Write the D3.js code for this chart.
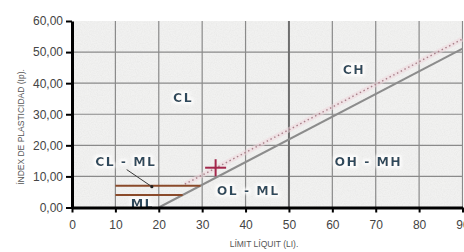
<!DOCTYPE html>
<html><head><meta charset="utf-8">
<script src="https://cdn.jsdelivr.net/npm/d3@7"></script>
<style>
html,body{margin:0;padding:0;background:#fff;}
svg{display:block;}
</style></head>
<body>
<svg id="chart" width="464" height="252"></svg>
<script>
// ---- data ----
const xTicks = [0,10,20,30,40,50,60,70,80,90];
const yTicks = [0,10,20,30,40,50,60];
const aLineLL = [20, 90];
const aLinePI = [0, 51.1];
const dotLineLL = [26, 90];
const dotLinePI = [7.5, 54.2];
const clmlBandPI = [7, 4];
const clmlBandFrom = [10, 10];
const clmlBandTo = [29.6, 25.5];
const divisionLL = 50;
const sampleLL = [33.1];
const samplePI = [12.8];
const zoneNames = ["CH", "CL", "CL - ML", "ML", "OL - ML", "OH - MH"];
const zoneLL = [65, 25.6, 12.4, 16.2, 40.6, 68.3];
const zonePI = [44.5, 35.3, 14.7, 1.4, 5.4, 14.8];
const pointerFrom = [12.6, 12.2];
const pointerTo = [18.4, 6.7];
const xTitle = "LÍMIT LÍQUIT (LI).";
const yTitle = "ÍNDEX DE PLASTICIDAD (Ip).";

// ---- chart ----
const svg = d3.select("#chart");
const x = d3.scaleLinear().domain([0, 90]).range([72, 462.5]);
const y = d3.scaleLinear().domain([0, 60]).range([207.5, 21]);

const defs = svg.append("defs");
const f = defs.append("filter").attr("id","grain").attr("x",0).attr("y",0).attr("width","100%").attr("height","100%");
f.append("feTurbulence").attr("type","fractalNoise").attr("baseFrequency",0.85).attr("numOctaves",2).attr("seed",3).attr("result","n");
f.append("feColorMatrix").attr("in","n").attr("type","matrix")
  .attr("values","0 0 0 0 0.62  0 0 0 0 0.62  0 0 0 0 0.61  0 0 0 0.45 -0.16").attr("result","m");
f.append("feComposite").attr("in","m").attr("in2","SourceGraphic").attr("operator","over");

const glow = defs.append("filter").attr("id","glow").attr("x","-20%").attr("y","-40%").attr("width","140%").attr("height","180%");
glow.append("feMorphology").attr("in","SourceAlpha").attr("operator","dilate").attr("radius",1.5).attr("result","d");
glow.append("feGaussianBlur").attr("in","d").attr("stdDeviation",1.5).attr("result","b");
glow.append("feFlood").attr("flood-color","#ffffff").attr("flood-opacity",0.9);
glow.append("feComposite").attr("in2","b").attr("operator","in").attr("result","w");
const gm = glow.append("feMerge");
gm.append("feMergeNode").attr("in","w");
gm.append("feMergeNode").attr("in","SourceGraphic");

// plot background
svg.append("rect")
  .attr("x", x(0)).attr("y", y(60))
  .attr("width", x(90) - x(0)).attr("height", y(0) - y(60))
  .attr("fill", "#f1f1f0").attr("filter","url(#grain)");

// grid
const grid = svg.append("g");
grid.selectAll("line.v").data(xTicks.filter(d => d > 0 && d !== divisionLL)).enter().append("line")
  .attr("x1", d => x(d)).attr("x2", d => x(d)).attr("y1", y(60)).attr("y2", y(0))
  .attr("stroke", "#8a8a8a").attr("stroke-width", 1.2);
grid.selectAll("line.h").data(yTicks.filter(d => d > 0 && d < 60)).enter().append("line")
  .attr("x1", x(0)).attr("x2", x(90)).attr("y1", d => y(d)).attr("y2", d => y(d))
  .attr("stroke", "#8a8a8a").attr("stroke-width", 1.2);
grid.append("line")
  .attr("x1", x(divisionLL)).attr("x2", x(divisionLL)).attr("y1", y(60)).attr("y2", y(0))
  .attr("stroke", "#6e6e6e").attr("stroke-width", 2);

// zone labels
svg.append("g").selectAll("text").data(zoneNames).enter().append("text")
  .attr("x", (d,i) => x(zoneLL[i])).attr("y", (d,i) => y(zonePI[i]))
  .attr("dy", "0.36em").attr("text-anchor", "middle")
  .attr("font-family", "'DejaVu Sans', sans-serif").attr("font-weight", "bold")
  .attr("font-size", 12.5).attr("letter-spacing", 1.4)
  .attr("fill", "#2e4a5b").attr("filter","url(#glow)")
  .text(d => d);

// dotted line with faint pink band
const line = d3.line().x(d => x(d[0])).y(d => y(d[1]));
const dotPts = dotLineLL.map((d,i) => [d, dotLinePI[i]]);
svg.append("path").attr("d", line(dotPts)).attr("fill","none")
  .attr("stroke","#f0d6dc").attr("stroke-width",5).attr("opacity",0.5);
svg.append("path").attr("d", line(dotPts)).attr("fill","none")
  .attr("stroke","#a8808a").attr("stroke-width",1.4).attr("stroke-dasharray","1.5,2.7");

// A-line
const aPts = aLineLL.map((d,i) => [d, aLinePI[i]]);
svg.append("path").attr("d", line(aPts)).attr("fill","none")
  .attr("stroke","#8c8c8c").attr("stroke-width",2);

// CL-ML band lines
svg.append("g").selectAll("line").data(clmlBandPI).enter().append("line")
  .attr("x1", (d,i) => x(clmlBandFrom[i])).attr("x2", (d,i) => x(clmlBandTo[i]))
  .attr("y1", d => y(d)).attr("y2", d => y(d))
  .attr("stroke", "#8a4a2a").attr("stroke-width", 2);

// pointer
svg.append("line")
  .attr("x1", x(pointerFrom[0])).attr("y1", y(pointerFrom[1]))
  .attr("x2", x(pointerTo[0])).attr("y2", y(pointerTo[1]))
  .attr("stroke", "#3a3a3a").attr("stroke-width", 1);
svg.append("circle").attr("cx", x(pointerTo[0])).attr("cy", y(pointerTo[1])).attr("r", 1.6).attr("fill","#222");

// sample cross
const cross = svg.append("g").selectAll("g").data(sampleLL).enter().append("g")
  .attr("transform", (d,i) => `translate(${x(d)},${y(samplePI[i])})`);
cross.append("line").attr("x1",-10.5).attr("x2",10.5).attr("y1",0).attr("y2",0).attr("stroke","#a3284c").attr("stroke-width",2);
cross.append("line").attr("x1",0).attr("x2",0).attr("y1",-8.5).attr("y2",8.5).attr("stroke","#a3284c").attr("stroke-width",2);

// axes
const fmt = d => d3.format(".2f")(d).replace(".", ",");
const yAxis = svg.append("g").attr("transform", `translate(${x(0)},0)`)
  .call(d3.axisLeft(y).tickValues(yTicks).tickFormat(fmt).tickSize(6).tickSizeOuter(0).tickPadding(3));
const xAxis = svg.append("g").attr("transform", `translate(0,${y(0)})`)
  .call(d3.axisBottom(x).tickValues(xTicks).tickFormat(d3.format("d")).tickSize(5).tickSizeOuter(0).tickPadding(8));
[yAxis, xAxis].forEach(a => {
  a.select(".domain").attr("stroke","#000").attr("stroke-width",3);
  a.selectAll(".tick line").attr("stroke","#000").attr("stroke-width",2);
  a.selectAll(".tick text").attr("font-family","'Liberation Sans', Arial, sans-serif").attr("font-size",12).attr("fill","#444");
});

// titles
svg.append("text").attr("x", 264).attr("y", 247).attr("text-anchor","middle")
  .attr("font-family","'Liberation Sans', Arial, sans-serif").attr("font-size",8.5).attr("fill","#555")
  .text(xTitle);
svg.append("text").attr("transform","translate(24,127) rotate(-90)").attr("text-anchor","middle")
  .attr("font-family","'Liberation Sans', Arial, sans-serif").attr("font-size",8.5).attr("fill","#555")
  .text(yTitle);
</script>
</body></html>
